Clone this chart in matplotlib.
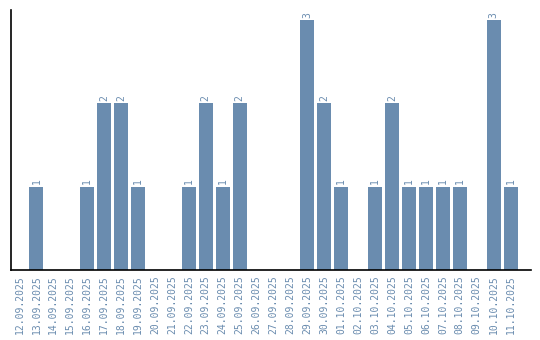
import matplotlib
matplotlib.use("Agg")
import matplotlib.pyplot as plt

# ==========================================
# DATA
# ==========================================

dates = [
    "12.09.2025", "13.09.2025", "14.09.2025", "15.09.2025", "16.09.2025",
    "17.09.2025", "18.09.2025", "19.09.2025", "20.09.2025", "21.09.2025",
    "22.09.2025", "23.09.2025", "24.09.2025", "25.09.2025", "26.09.2025",
    "27.09.2025", "28.09.2025", "29.09.2025", "30.09.2025", "01.10.2025",
    "02.10.2025", "03.10.2025", "04.10.2025", "05.10.2025", "06.10.2025",
    "07.10.2025", "08.10.2025", "09.10.2025", "10.10.2025", "11.10.2025",
]
counts = [0, 1, 0, 0, 1, 2, 2, 1, 0, 0,
          1, 2, 1, 2, 0, 0, 0, 3, 2, 1,
          0, 1, 2, 1, 1, 1, 1, 0, 3, 1]

COLOR = "#6a8caf"

# ==========================================
# PLOT
# ==========================================

plt.rcParams["font.family"] = ["DejaVu Sans Mono"]

fig = plt.figure(figsize=(5.4, 3.4), dpi=100)
ax = fig.add_axes([11 / 540, 70 / 340, 520 / 540, 260 / 340])

x = list(range(len(dates)))
bars = ax.bar(x, counts, width=0.82, color=COLOR)

for xi, c in zip(x, counts):
    if c > 0:
        ax.text(xi, c + 0.03, str(c), rotation=90, ha="center", va="bottom",
                fontsize=7, color=COLOR)

ax.set_xlim(-0.5, 30.2)
ax.set_ylim(0, 3.12)
ax.set_xticks(x)
ax.set_xticklabels(dates, rotation=90, fontsize=7, color=COLOR)
ax.tick_params(axis="x", length=0, pad=4)
ax.set_yticks([])

for side in ["top", "right"]:
    ax.spines[side].set_visible(False)
ax.spines["left"].set_linewidth(1.2)
ax.spines["bottom"].set_linewidth(1.2)

fig.savefig("out.png", dpi=100)
plt.close(fig)
